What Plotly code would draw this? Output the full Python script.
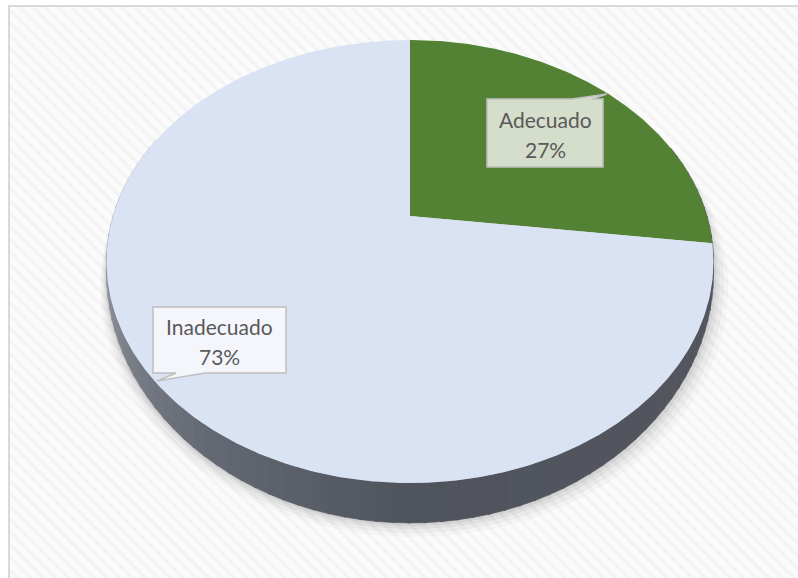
import numpy as np
import plotly.graph_objects as go

# ---- data ----
categories = ["Adecuado", "Inadecuado"]
values = [27, 73]
slice_colors = ["#548235", "#dae3f3"]

# ---- tilted-pie geometry (screen pixels) ----
W, H = 798, 578
CX, CY = 410, 216          # centre of the top face
TILT_A, PERSP_C = 167.8, -0.2054
RADIUS_X = 297
DROP_NEAR = 40             # rim thickness seen at the front
DROP_POW = 2.4             # how fast the visible rim thins toward the sides


def project(theta_deg, kscale=1.0):
    """Map an angle (clockwise from 12 o'clock) on the top rim to the screen."""
    th = np.radians(theta_deg)
    u = np.sin(th)
    v = -np.cos(th)
    den = 1 + PERSP_C * v
    x = CX + RADIUS_X * kscale * u / den
    y = (TILT_A * v + CY) / den
    return x, y


def rim_drop(theta_deg):
    v = -np.cos(np.radians(theta_deg))
    return DROP_NEAR * np.clip((1 + v) / 2, 0, 1) ** DROP_POW


def project_bottom(theta_deg, extra=0.0, kscale=1.0):
    x, y = project(theta_deg, kscale)
    return x, y + rim_drop(theta_deg) + extra


def side_colour(theta):
    stops = [(60, (85, 88, 95)), (150, (82, 85, 93)), (180, (80, 84, 92)),
             (215, (100, 105, 115)), (240, (124, 129, 139)), (260, (150, 155, 164)),
             (280, (190, 193, 200)), (300, (205, 208, 214))]
    for (t0, c0), (t1, c1) in zip(stops[:-1], stops[1:]):
        if t0 <= theta <= t1:
            f = (theta - t0) / (t1 - t0)
            c = [round(a + (b - a) * f) for a, b in zip(c0, c1)]
            return "rgb(%d,%d,%d)" % tuple(c)
    return "rgb(%d,%d,%d)" % stops[-1][1]


fig = go.Figure()

# chart-area background with diagonal texture
fig.add_trace(go.Scatter(
    x=[9, W + 5, W + 5, 9, 9], y=[6, 6, H + 5, H + 5, 6],
    mode="lines", line=dict(width=0), fill="toself",
    fillcolor="#fbfbfb",
    fillpattern=dict(shape="\\", fgcolor="#ededed", bgcolor="#fbfbfb",
                     size=9, solidity=0.4),
    hoverinfo="skip", showlegend=False))

# soft shadow under the disc
full = np.linspace(0, 360, 241)
for extra, alpha in [(14, 0.025), (10, 0.035), (6, 0.045), (3, 0.05)]:
    sx, sy = project_bottom(full, extra=extra, kscale=1 + extra / 400)
    fig.add_trace(go.Scatter(
        x=sx + extra * 0.3, y=sy, mode="lines", line=dict(width=0),
        fill="toself", fillcolor="rgba(0,0,0,%g)" % alpha,
        hoverinfo="skip", showlegend=False))

# visible rim of the disc, in narrow shaded strips
step = 2.5
for t0 in np.arange(70, 292, step):
    t1 = t0 + step + 0.3
    arc = np.linspace(t0, t1, 4)
    tx, ty = project(arc)
    bx, by = project_bottom(arc[::-1])
    col = side_colour(t0 + step / 2)
    fig.add_trace(go.Scatter(
        x=np.r_[tx, bx, tx[:1]], y=np.r_[ty, by, ty[:1]],
        mode="lines", line=dict(width=0.6, color=col),
        fill="toself", fillcolor=col,
        hoverinfo="skip", showlegend=False))

# top faces of the slices
total = sum(values)
start = 0.0
for name, val, col in zip(categories, values, slice_colors):
    sweep = 360.0 * val / total
    arc = np.linspace(start, start + sweep, max(int(sweep * 2), 8))
    ax_, ay_ = project(arc)
    fig.add_trace(go.Scatter(
        x=np.r_[CX, ax_, CX], y=np.r_[CY, ay_, CY],
        mode="lines", line=dict(width=0), fill="toself", fillcolor=col,
        name=name, hoverinfo="skip", showlegend=False))
    start += sweep

# callout labels
callouts = {
    "Adecuado": dict(box=(487, 603, 99, 167),
                     path="M487,99 H572 L607,94 L592,99 H603 V167 H487 Z",
                     fill="#d5ddcb"),
    "Inadecuado": dict(box=(153, 286, 307, 373),
                       path="M153,307 H286 V373 H205 L157,381 L176,373 H153 Z",
                       fill="#f4f6fb"),
}
label_font = dict(family="Lato, Carlito, Calibri, sans-serif", size=21, color="#595959")
for name, val in zip(categories, values):
    c = callouts[name]
    fig.add_shape(type="path", path=c["path"], xref="x", yref="y",
                  fillcolor=c["fill"], line=dict(color="#bfbfbf", width=1.5),
                  layer="above")
    x0, x1, y0, y1 = c["box"]
    xm = (x0 + x1) / 2
    ym = (y0 + y1) / 2
    pct = round(100 * val / total)
    fig.add_annotation(x=xm, y=ym - 14, text=name, showarrow=False,
                       xref="x", yref="y", font=label_font)
    fig.add_annotation(x=xm, y=ym + 16, text=f"{pct}%", showarrow=False,
                       xref="x", yref="y", font=label_font)

# outer frame of the chart area
fig.add_shape(type="rect", x0=9, y0=6, x1=W + 10, y1=H + 10, xref="x", yref="y",
              line=dict(color="#d9d9d9", width=2), fillcolor="rgba(0,0,0,0)",
              layer="above")

fig.update_layout(
    width=W, height=H, margin=dict(l=0, r=0, t=0, b=0),
    paper_bgcolor="white", plot_bgcolor="white",
    xaxis=dict(range=[0, W], visible=False, fixedrange=True),
    yaxis=dict(range=[H, 0], visible=False, fixedrange=True),
    showlegend=False,
)

fig.write_html("out.html")
